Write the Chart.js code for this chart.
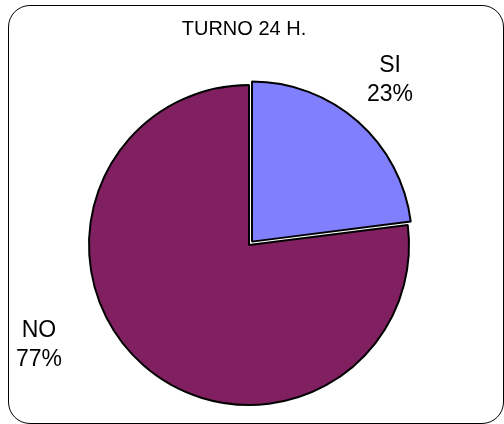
<!DOCTYPE html>
<html>
<head>
<meta charset="utf-8">
<script src="https://cdn.jsdelivr.net/npm/chart.js@4"></script>
<style>
  body { margin: 0; background: #fff; }
  #wrap { position: relative; width: 504px; height: 424px; overflow: hidden; }
  #frame {
    position: absolute; left: 8px; top: 5px; width: 496px; height: 419px;
    box-sizing: border-box; border: 1px solid #000; border-radius: 22px;
  }
  canvas { position: absolute; left: 0; top: 0; }
</style>
</head>
<body>
<div id="wrap">
  <div id="frame"></div>
  <canvas id="pieChart" width="504" height="424"></canvas>
</div>
<script>
// === Data ===
const chartTitle = "TURNO 24 H.";
const categories = ["SI", "NO"];
const values = [23, 77];
const sliceColors = ["#8080FF", "#802060"];

// label anchors (text centre x, baseline of first line)
const labelAnchors = [
  { x: 390, y: 72 },
  { x: 39, y: 337 },
];

// Draws the title and the category/percent labels
const labelPlugin = {
  id: "pieLabels",
  afterDraw(chart) {
    const ctx = chart.ctx;
    const total = values.reduce((a, b) => a + b, 0);
    ctx.save();
    ctx.fillStyle = "#000";
    ctx.textAlign = "center";
    ctx.textBaseline = "alphabetic";

    ctx.font = "20px 'Liberation Sans', Arial, sans-serif";
    ctx.fillText(chartTitle, 244, 35);

    ctx.font = "23px 'Liberation Sans', Arial, sans-serif";
    categories.forEach((cat, i) => {
      const pct = Math.round((values[i] / total) * 100) + "%";
      const a = labelAnchors[i];
      ctx.fillText(cat, a.x, a.y);
      ctx.fillText(pct, a.x, a.y + 29);
    });
    ctx.restore();
  },
};

const ctx = document.getElementById("pieChart").getContext("2d");
new Chart(ctx, {
  type: "pie",
  data: {
    labels: categories,
    datasets: [
      {
        data: values,
        backgroundColor: sliceColors,
        borderColor: "#000",
        borderWidth: 2,
        offset: [18, 0],
        hoverOffset: 0,
      },
    ],
  },
  options: {
    responsive: false,
    animation: false,
    events: [],
    radius: 160,
    layout: { padding: { left: 60, right: 66, top: 66, bottom: 0 } },
    plugins: {
      legend: { display: false },
      title: { display: false },
      tooltip: { enabled: false },
    },
  },
  plugins: [labelPlugin],
});
</script>
</body>
</html>
